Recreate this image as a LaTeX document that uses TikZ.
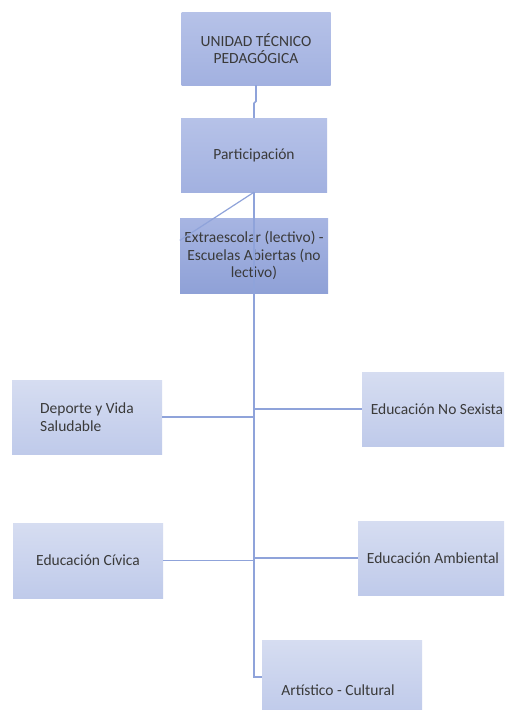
\documentclass[tikz,border=0pt]{standalone}
\usepackage{fontspec}
\setmainfont{Carlito}
\usetikzlibrary{calc}
\definecolor{linec}{HTML}{8FA3DA}
\definecolor{txt}{HTML}{3A3A3A}
\definecolor{topA}{HTML}{B6C2E8}
\definecolor{botA}{HTML}{A2B1E0}
\definecolor{topB}{HTML}{A7B5E2}
\definecolor{botB}{HTML}{8FA1D7}
\definecolor{topC}{HTML}{D6DDF1}
\definecolor{botC}{HTML}{BFCAEA}
\tikzset{
  box/.style={rectangle, inner sep=2pt, text=txt, align=center,
    font=\fontsize{15.5}{17.5}\selectfont},
  boxA/.style={box, top color=topA, bottom color=botA},
  boxB/.style={box, top color=topB, bottom color=botB},
  boxC/.style={box, top color=topC, bottom color=botC},
  conn/.style={draw=linec, line width=1.6pt},
}
\begin{document}
\begin{tikzpicture}[x=1pt,y=-1pt]
\path[use as bounding box] (0,0) rectangle (504,710);
\clip (0,0) rectangle (504,710);
\fill[white] (0,0) rectangle (504,710);

\node[boxA, minimum width=149pt, minimum height=73pt] (unidad) at (256,48.5) {UNIDAD TÉCNICO\\PEDAGÓGICA};
\node[boxA, minimum width=146pt, minimum height=74pt] (part) at (254,155) {Participación};
\node[boxB, minimum width=148pt, minimum height=75pt, inner sep=0pt] (extra) at (254,255.5) {Extraescolar (lectivo) -\\Escuelas Abiertas (no\\lectivo)};

\node[boxC, minimum width=150pt, minimum height=74pt, align=left] (deporte) at (87,417) {Deporte y Vida\\Saludable};
\node[boxC, minimum width=150pt, minimum height=75pt] (civica) at (88,560.5) {Educación Cívica};
\node[boxC, minimum width=150pt, minimum height=74pt] (nosex) at (437,409) {Educación No Sexista};
\node[boxC, minimum width=150pt, minimum height=74pt] (ambiental) at (433,558) {Educación Ambiental};
\node[boxC, minimum width=160pt, minimum height=74pt] (artistico) at (342,677) {};
\node[box] (artext) at (338,690) {Artístico - Cultural};

\draw[conn] (unidad.south) -- ++(0,16) -- ++(-2,2) -- (part.north);
\coordinate (diagend) at ($(extra.north west)!0.3!(extra.south west)$);
\draw[conn, line width=1.2pt] (part.south) -- (diagend);
\draw[conn] (part.south) |- (artistico.west);
\draw[conn] (deporte.east) -- (deporte.east -| part.south);
\draw[conn] (civica.east) -- (civica.east -| part.south);
\draw[conn] (nosex.west) -- (nosex.west -| part.south);
\draw[conn] (ambiental.west) -- (ambiental.west -| part.south);
\end{tikzpicture}
\end{document}
